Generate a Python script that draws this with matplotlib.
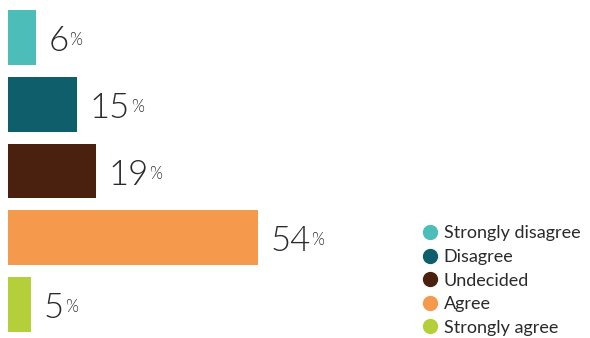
import matplotlib.pyplot as plt
from matplotlib.lines import Line2D

categories = ['Strongly disagree', 'Disagree', 'Undecided', 'Agree', 'Strongly agree']
values = [6, 15, 19, 54, 5]
colors = ['#4dbdb9', '#0e5f6b', '#4a200e', '#f5994d', '#b5cf3a']

plt.rcParams['font.family'] = ['Lato', 'DejaVu Sans']

fig = plt.figure(figsize=(5.9, 3.38), dpi=100)
ax = fig.add_axes([8 / 590, 0, 555 / 590, 0.988])

ypos = list(range(len(values)))
ax.barh(ypos, values, height=0.82, color=colors)
ax.set_xlim(0, 120)
ax.set_ylim(4.5, -0.5)
ax.axis('off')

# value labels with a small raised percent sign
fig.canvas.draw()
renderer = fig.canvas.get_renderer()
for y, v in zip(ypos, values):
    t = ax.annotate(str(v), (v, y), xytext=(9, -2.5), textcoords='offset points',
                    ha='left', va='center', fontsize=25, fontweight=300,
                    color='#2a2a2a')
    bb = t.get_window_extent(renderer)
    ax.annotate('%', (bb.x1 + 1, bb.y1 - 7), xycoords='figure pixels',
                ha='left', va='top', fontsize=12, fontweight=300,
                color='#2a2a2a')

handles = [Line2D([], [], marker='o', linestyle='', markersize=10,
                  markerfacecolor=c, markeredgecolor=c) for c in colors]
fig.legend(handles, categories, loc='upper left', bbox_to_anchor=(0.70, 0.36),
           frameon=False, fontsize=13.0, handletextpad=0.3, labelspacing=0.42,
           borderpad=0, handlelength=0.9, labelcolor='#2a2a2a')

fig.savefig('out.png', dpi=100)
